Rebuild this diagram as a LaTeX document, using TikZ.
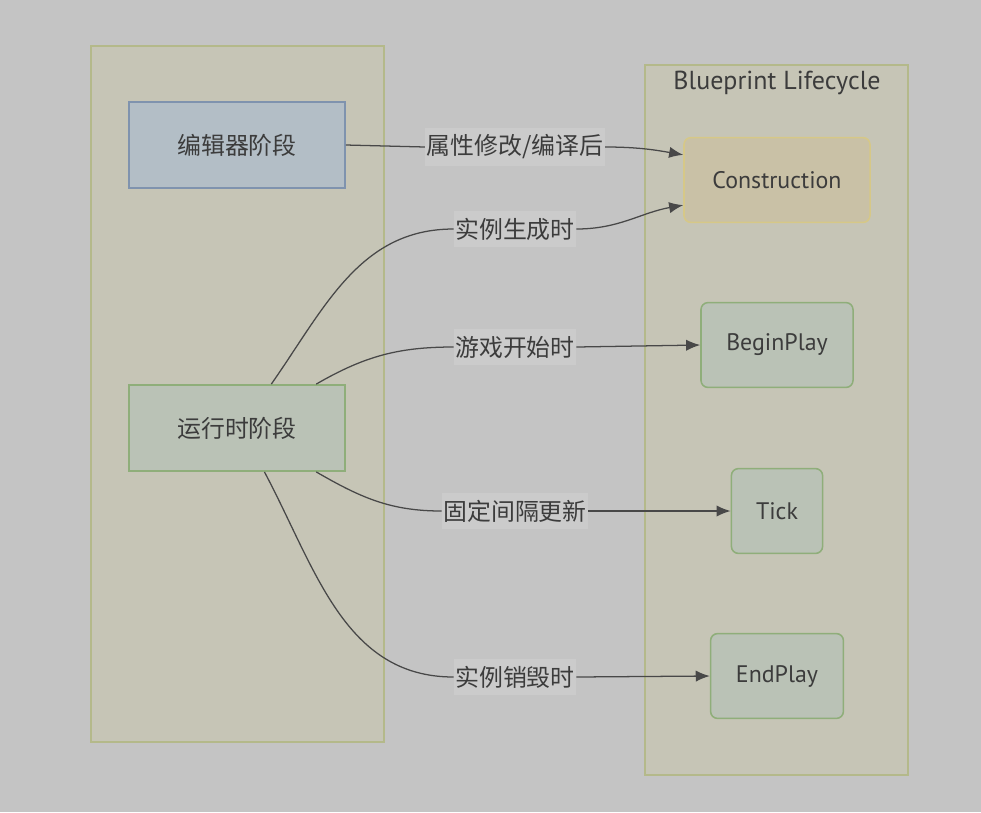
\documentclass[tikz,border=0pt]{standalone}
\usepackage{fontspec}
\setmainfont{PT Sans}
\newfontfamily\cjk{Noto Sans CJK SC}
\usetikzlibrary{arrows.meta}

\definecolor{bgcol}{HTML}{C4C4C4}
\definecolor{clusterfill}{HTML}{C6C5B6}
\definecolor{clusterline}{HTML}{B4B98A}
\definecolor{editorfill}{HTML}{B3BEC6}
\definecolor{editorline}{HTML}{7F93AE}
\definecolor{runfill}{HTML}{BAC2B6}
\definecolor{runline}{HTML}{8FAE7A}
\definecolor{consfill}{HTML}{C9C1A6}
\definecolor{consline}{HTML}{D6C887}
\definecolor{labelfill}{HTML}{CBCBCB}
\definecolor{textcol}{HTML}{3C3C3C}
\definecolor{edgecol}{HTML}{484848}

\tikzset{
  cluster/.style={draw=clusterline, fill=clusterfill, line width=1.1pt},
  phasebox/.style={rectangle, draw, line width=1.3pt, minimum width=5.4cm,
    minimum height=2.15cm, text=textcol, font=\cjk\fontsize{17}{20}\selectfont},
  stepbox/.style={rectangle, rounded corners=5pt, draw=runline, fill=runfill,
    line width=1.1pt, minimum height=2.12cm, text=textcol,
    font=\fontsize{17}{20}\selectfont},
  edgelabel/.style={fill=labelfill, inner xsep=1pt, inner ysep=5pt, text=textcol,
    font=\cjk\fontsize{17}{20}\selectfont},
  link/.style={draw=edgecol, line width=0.9pt, -{Latex[length=10pt, width=8pt]}},
  plain/.style={draw=edgecol, line width=0.9pt}
}

\begin{document}
\begin{tikzpicture}[x=0.025cm, y=-0.025cm]

  % Background
  \fill[bgcol] (0,0) rectangle (981,812);

  % Clusters
  \draw[cluster] (91,46) rectangle (384,742);
  \draw[cluster] (645,65) rectangle (908,775);
  \node[text=textcol, font=\fontsize{18.5}{22}\selectfont] (bptitle) at (777,83) {Blueprint Lifecycle};

  % Phases
  \node[phasebox, draw=editorline, fill=editorfill] (editor) at (237,145) {编辑器阶段};
  \node[phasebox, draw=runline, fill=runfill] (runtime) at (237,428) {运行时阶段};

  % Lifecycle steps
  \node[stepbox, draw=consline, fill=consfill, minimum width=4.65cm] (cons) at (777,180) {Construction};
  \node[stepbox, minimum width=3.8cm] (beginplay) at (777,345) {BeginPlay};
  \node[stepbox, minimum width=2.28cm] (tick) at (777,511) {Tick};
  \node[stepbox, minimum width=3.32cm] (endplay) at (777,676) {EndPlay};

  % Edge labels
  \node[edgelabel] (lblcompile) at (515,147) {属性修改/编译后};
  \node[edgelabel] (lblspawn) at (515,229) {实例生成时};
  \node[edgelabel] (lblbegin) at (515,347) {游戏开始时};
  \node[edgelabel] (lbltick) at (515,511) {固定间隔更新};
  \node[edgelabel] (lblend) at (515,677) {实例销毁时};

  % Editor -> Construction
  \draw[plain] (editor.east) -- (lblcompile.west);
  \draw[link] (lblcompile.east) to[out=0, in=170] (cons.165);

  % Runtime -> steps
  \draw[plain] (runtime.52) to[out=55, in=180] (lblspawn.west);
  \draw[link] (lblspawn.east) to[out=0, in=190] (cons.195);
  \draw[plain] (runtime.29) to[out=30, in=180] (lblbegin.west);
  \draw[link] (lblbegin.east) -- (beginplay.west);
  \draw[plain] (runtime.-29) to[out=-30, in=180] (lbltick.west);
  \draw[link] (lbltick.east) -- (tick.west);
  \draw[plain] (runtime.-58) to[out=-62, in=180] (lblend.west);
  \draw[link] (lblend.east) -- (endplay.west);

\end{tikzpicture}
\end{document}
